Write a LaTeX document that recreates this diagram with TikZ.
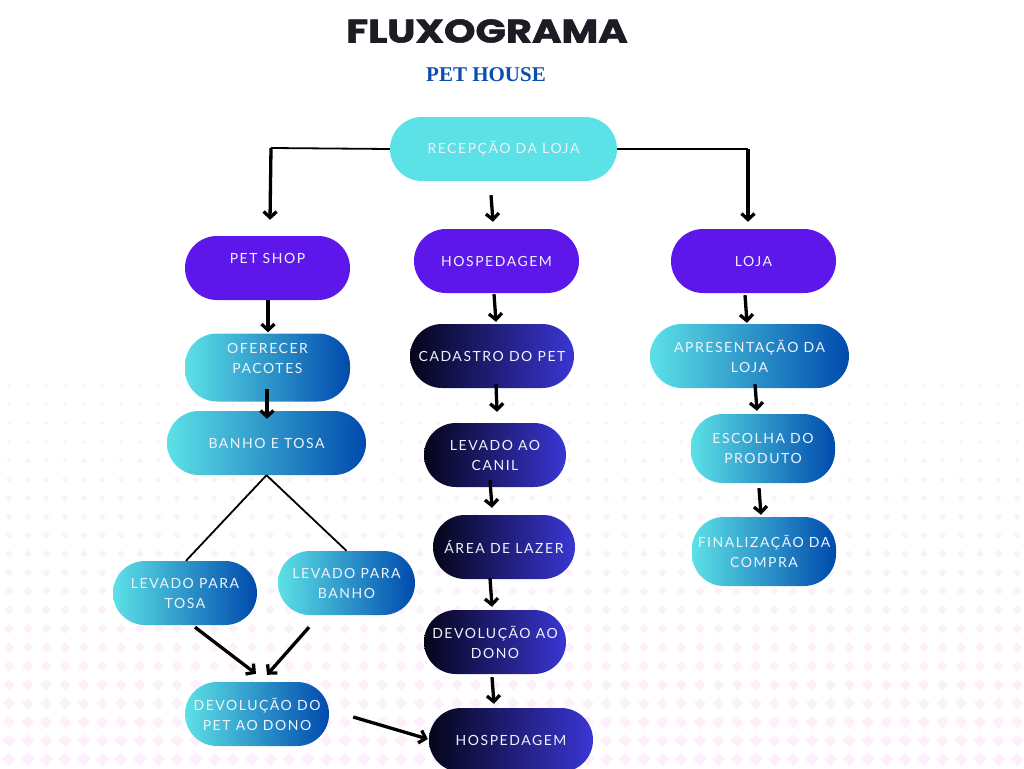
\documentclass[tikz,border=0pt]{standalone}
\usepackage{fontspec}
\usetikzlibrary{arrows.meta}
\newfontfamily\nodefont[LetterSpace=11]{Lato}
\newfontfamily\titlefont[FakeBold=1.6]{Poppins Bold}
\newfontfamily\subfont{Liberation Serif}
\definecolor{cyanA}{HTML}{5CE1E6}
\definecolor{blueB}{HTML}{004AAD}
\definecolor{purp}{HTML}{5E17EB}
\definecolor{darkA}{HTML}{05051A}
\definecolor{darkB}{HTML}{3A36D4}
\definecolor{txtc}{HTML}{EEF3FB}
\definecolor{titlec}{HTML}{1C1C24}
\definecolor{subc}{HTML}{0B4DB0}
\definecolor{bgdot}{HTML}{FDF0FC}
\begin{document}
\begin{tikzpicture}[x=1pt,y=-1pt,
  capsule/.style={rectangle, rounded corners=32pt, inner sep=0pt, align=center,
    text=txtc, font=\nodefont\fontsize{14}{20}\selectfont},
  solidc/.style={capsule, fill=cyanA},
  purpc/.style={capsule, fill=purp},
  gradc/.style={capsule, left color=cyanA, right color=blueB},
  darkc/.style={capsule, left color=darkA, right color=darkB},
  txtonly/.style={inner sep=0pt, align=center, text=txtc, font=\nodefont\fontsize{14}{20}\selectfont},
  arr/.style={line width=3.3pt, -{Straight Barb[length=6pt,width=13pt]}},
  thinl/.style={line width=1.8pt}]
\clip (0,0) rectangle (1024,768);
\fill[white] (0,0) rectangle (1024,768);
% background diamonds
\foreach \k in {0,...,20} {
  \pgfmathsetmacro\yy{386+18.67*\k}
  \pgfmathsetmacro\ss{1.5+(\yy-386)*0.0139}
  \foreach \j in {0,...,54} {
    \fill[bgdot] (9+18.67*\j,\yy) +(-\ss,0) -- +(0,-\ss) -- +(\ss,0) -- +(0,\ss) -- cycle;
  }
}
% titles
\node[text=titlec, font=\titlefont\fontsize{32}{36}\selectfont, xscale=1.25, yscale=1.02] (title) at (487,31) {FLUXOGRAMA};
\node[text=subc, font=\subfont\bfseries\fontsize{21}{24}\selectfont] (sub) at (486,75) {PET HOUSE};
% top level
\node[solidc, minimum width=227, minimum height=64] (recep) at (503.5,149) {RECEPÇÃO DA LOJA};
\node[purpc, minimum width=165, minimum height=64] (petshop) at (267.5,268) {};
\node[txtonly] (petshopt) at (267.5,258) {PET SHOP};
\node[purpc, minimum width=165, minimum height=64] (hosp1) at (496.5,261) {HOSPEDAGEM};
\node[purpc, minimum width=165, minimum height=64] (loja) at (753.5,261) {LOJA};
% left column
\node[gradc, minimum width=165, minimum height=68] (ofer) at (267.5,367.5) {};
\node[txtonly] (ofert) at (267.5,358) {OFERECER\\PACOTES};
\node[gradc, minimum width=199, minimum height=64] (banho) at (266.5,443) {BANHO E TOSA};
\node[gradc, minimum width=144, minimum height=64] (tosa) at (185,593) {LEVADO PARA\\TOSA};
\node[gradc, minimum width=137, minimum height=64] (lbanho) at (346.5,583) {LEVADO PARA\\BANHO};
\node[gradc, minimum width=144, minimum height=64] (devpet) at (257,714) {DEVOLUÇÃO DO\\PET AO DONO};
% middle column
\node[darkc, minimum width=164, minimum height=64] (cadastro) at (492,356) {CADASTRO DO PET};
\node[darkc, minimum width=142, minimum height=64] (canil) at (495,455) {LEVADO AO\\CANIL};
\node[darkc, minimum width=142, minimum height=64] (area) at (504,547) {ÁREA DE LAZER};
\node[darkc, minimum width=142, minimum height=64] (devdono) at (495,642) {DEVOLUÇÃO AO\\DONO};
\node[darkc, minimum width=164, minimum height=64] (hosp2) at (511,740) {HOSPEDAGEM};
% right column
\node[gradc, minimum width=199, minimum height=64] (apres) at (749.5,356) {APRESENTAÇÃO DA\\LOJA};
\node[gradc, minimum width=144, minimum height=69] (escolha) at (763,448.5) {ESCOLHA DO\\PRODUTO};
\node[gradc, minimum width=144, minimum height=69] (final) at (764,551.5) {FINALIZAÇÃO DA\\COMPRA};
% connectors
\coordinate (c1) at (271,148);
\coordinate (c2) at (748,149);
\draw[thinl] (recep.west) -- (c1);
\draw[thinl] (recep.east) -- (c2);
\draw[arr] (c1) -- ([xshift=2.5,yshift=16]petshop.north);
\draw[arr] (c2) -- ([xshift=-5.5,yshift=7]loja.north);
\draw[arr] ([xshift=-12.5,yshift=-14]recep.south) -- ([xshift=-3.5,yshift=7]hosp1.north);
\draw[arr] ([xshift=0.5]petshop.south) -- ([xshift=0.5,yshift=1]ofer.north);
\draw[arr] ([xshift=-0.5,yshift=12.5]ofer.south) -- ([xshift=0.5,yshift=-8]banho.north);
\draw[thinl] (banho.south) -- ([xshift=1]tosa.north);
\draw[thinl] (banho.south) -- (lbanho.north);
\draw[arr] ([xshift=10,yshift=-2]tosa.south) -- ([xshift=-1,yshift=8]devpet.north);
\draw[arr] ([xshift=-37.5,yshift=-12]lbanho.south) -- ([xshift=10,yshift=7]devpet.north);
\draw[arr] ([xshift=24,yshift=-3]devpet.east) -- ([xshift=-1,yshift=1]hosp2.west);
\draw[arr] ([xshift=-2.5,yshift=-1]hosp1.south) -- ([xshift=4,yshift=2]cadastro.north);
\draw[arr] ([xshift=4,yshift=4]cadastro.south) -- ([xshift=2,yshift=11]canil.north);
\draw[arr] ([xshift=-5,yshift=7]canil.south) -- ([xshift=-12,yshift=7]area.north);
\draw[arr] ([xshift=-14,yshift=1]area.south) -- ([xshift=-3,yshift=3]devdono.north);
\draw[arr] ([xshift=-3,yshift=-3]devdono.south) -- ([xshift=-17,yshift=4]hosp2.north);
\draw[arr] ([xshift=-8.5,yshift=-2]loja.south) -- ([xshift=-2.5,yshift=1]apres.north);
\draw[arr] ([xshift=5.5,yshift=4]apres.south) -- ([xshift=-6,yshift=3]escolha.north);
\draw[arr] ([xshift=-4,yshift=-5]escolha.south) -- ([xshift=-3,yshift=2]final.north);
\end{tikzpicture}
\end{document}
